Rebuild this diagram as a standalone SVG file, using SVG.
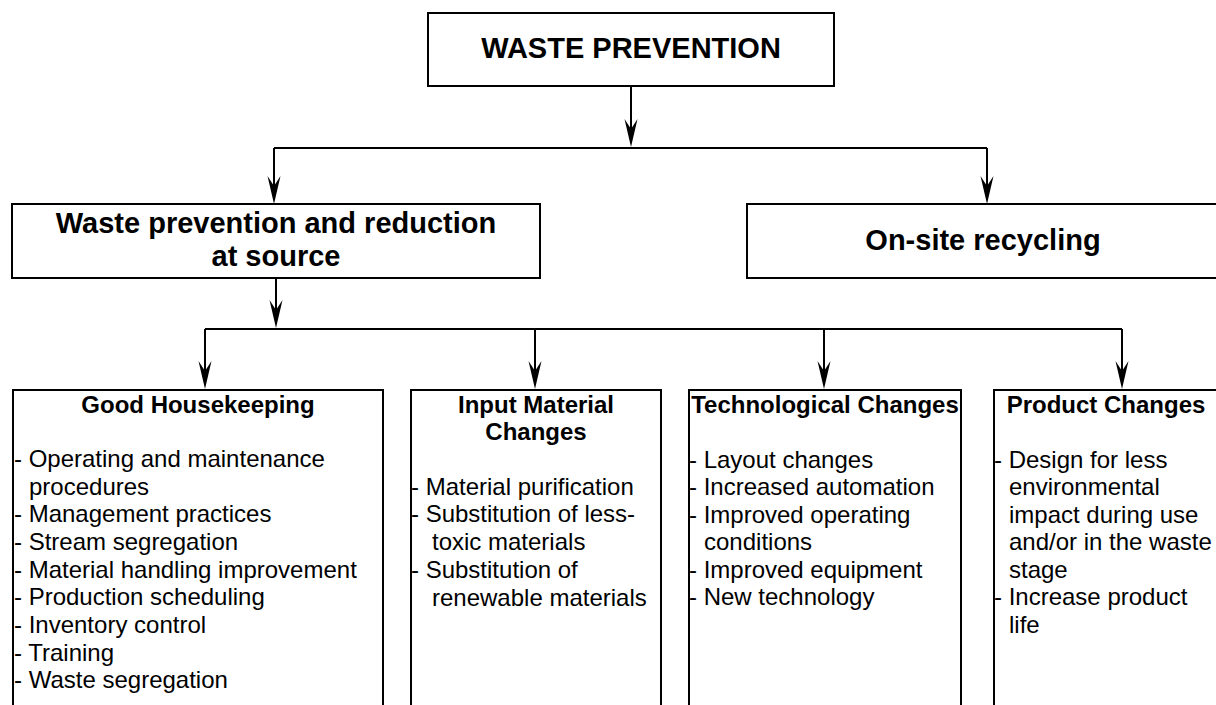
<svg xmlns="http://www.w3.org/2000/svg" width="1216" height="705" viewBox="0 0 1216 705">
  <style>
    .box { fill: #ffffff; stroke: #000000; stroke-width: 2; }
    .wire { fill: none; stroke: #000000; stroke-width: 2; }
    .h1 { font-family: "Liberation Sans", Arial, sans-serif; font-weight: bold; font-size: 29px; fill: #000; text-anchor: middle; }
    .h2 { font-family: "Liberation Sans", Arial, sans-serif; font-weight: bold; font-size: 24px; fill: #000; text-anchor: middle; }
    .body { font-family: "Liberation Sans", Arial, sans-serif; font-size: 24px; fill: #000; }
  </style>
  <defs>
    <!-- notched arrowhead; tip sits 10px beyond the line end -->
    <marker id="arrow" viewBox="-30 -8 32 16" refX="-10" refY="0" markerWidth="32" markerHeight="16" markerUnits="userSpaceOnUse" orient="auto">
      <path d="M0,0 L-28,-6.5 L-18,0 L-28,6.5 Z" fill="#000"/>
    </marker>
  </defs>
  <rect width="1216" height="705" fill="#ffffff"/>

  <g id="connectors">
    <path class="wire" d="M631,86 V137" marker-end="url(#arrow)"/>
    <path class="wire" d="M274,148 H987"/>
    <path class="wire" d="M274,148 V194" marker-end="url(#arrow)"/>
    <path class="wire" d="M987,148 V194" marker-end="url(#arrow)"/>
    <path class="wire" d="M276,278 V318" marker-end="url(#arrow)"/>
    <path class="wire" d="M205,329 H1122"/>
    <path class="wire" d="M205,329 V379" marker-end="url(#arrow)"/>
    <path class="wire" d="M535,329 V379" marker-end="url(#arrow)"/>
    <path class="wire" d="M824,329 V379" marker-end="url(#arrow)"/>
    <path class="wire" d="M1122,329 V379" marker-end="url(#arrow)"/>
  </g>

  <g id="waste-prevention">
    <rect class="box" x="428" y="13" width="406" height="73"/>
    <text class="h1" x="631" y="58">WASTE PREVENTION</text>
  </g>

  <g id="reduction-at-source">
    <rect class="box" x="12" y="204" width="528" height="74"/>
    <text class="h1" x="276" y="233">Waste prevention and reduction</text>
    <text class="h1" x="276" y="266">at source</text>
  </g>

  <g id="on-site-recycling">
    <rect class="box" x="747" y="204" width="472" height="74"/>
    <text class="h1" x="983" y="250">On-site recycling</text>
  </g>

  <g id="good-housekeeping">
    <rect class="box" x="13" y="390" width="370" height="330"/>
    <text class="h2" x="198" y="413">Good Housekeeping</text>
    <text class="body" x="14" y="467">- Operating and maintenance</text>
    <text class="body" x="29" y="495">procedures</text>
    <text class="body" x="14" y="522">- Management practices</text>
    <text class="body" x="14" y="550">- Stream segregation</text>
    <text class="body" x="14" y="578">- Material handling improvement</text>
    <text class="body" x="14" y="605">- Production scheduling</text>
    <text class="body" x="14" y="633">- Inventory control</text>
    <text class="body" x="14" y="661">- Training</text>
    <text class="body" x="14" y="688">- Waste segregation</text>
  </g>

  <g id="input-material-changes">
    <rect class="box" x="411" y="390" width="250" height="330"/>
    <text class="h2" x="536" y="413">Input Material</text>
    <text class="h2" x="536" y="440">Changes</text>
    <text class="body" x="411" y="495">- Material purification</text>
    <text class="body" x="411" y="522">- Substitution of less-</text>
    <text class="body" x="432" y="550">toxic materials</text>
    <text class="body" x="411" y="578">- Substitution of</text>
    <text class="body" x="432" y="606">renewable materials</text>
  </g>

  <g id="technological-changes">
    <rect class="box" x="689" y="390" width="272" height="330"/>
    <text class="h2" x="825" y="413">Technological Changes</text>
    <text class="body" x="689" y="468">- Layout changes</text>
    <text class="body" x="689" y="495">- Increased automation</text>
    <text class="body" x="689" y="523">- Improved operating</text>
    <text class="body" x="704" y="550">conditions</text>
    <text class="body" x="689" y="578">- Improved equipment</text>
    <text class="body" x="689" y="605">- New technology</text>
  </g>

  <g id="product-changes">
    <rect class="box" x="994" y="390" width="226" height="330"/>
    <text class="h2" x="1106" y="413">Product Changes</text>
    <text class="body" x="994" y="468">- Design for less</text>
    <text class="body" x="1009" y="495">environmental</text>
    <text class="body" x="1009" y="523">impact during use</text>
    <text class="body" x="1009" y="550">and/or in the waste</text>
    <text class="body" x="1009" y="578">stage</text>
    <text class="body" x="994" y="605">- Increase product</text>
    <text class="body" x="1009" y="633">life</text>
  </g>
</svg>
